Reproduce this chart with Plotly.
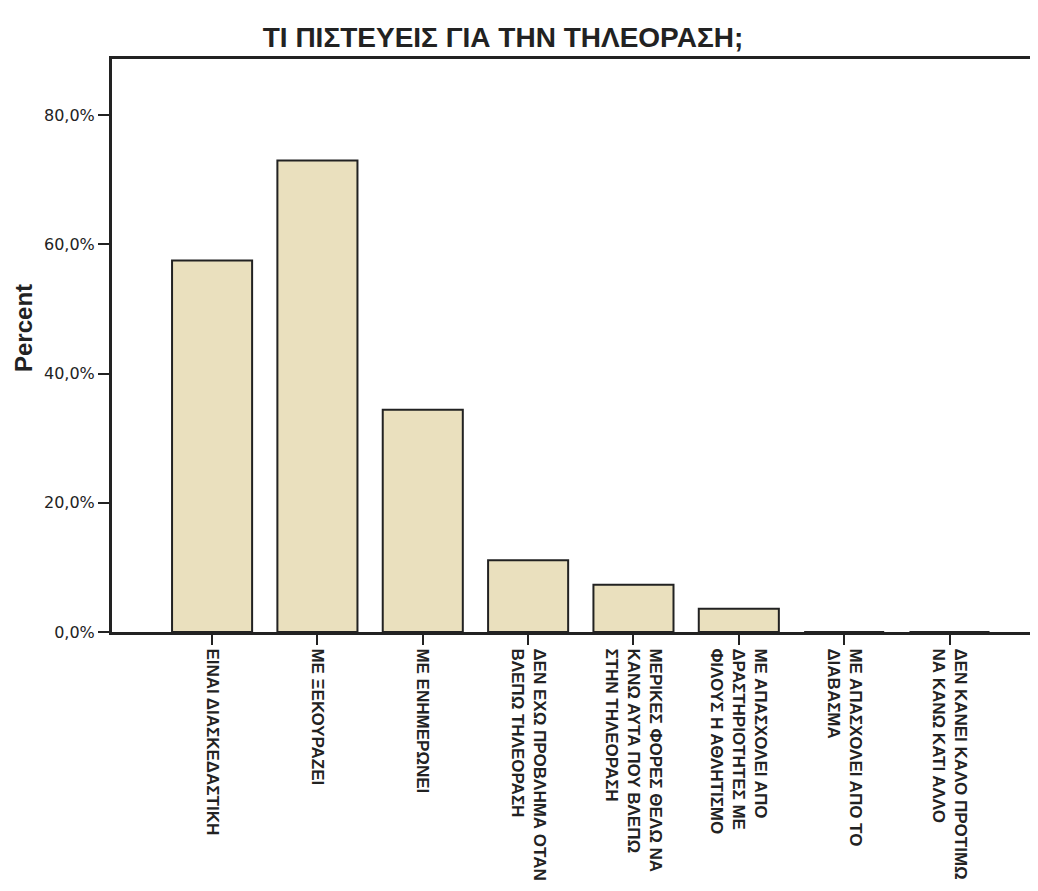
"""Bar chart: what pupils think about television (percent of respondents)."""

import plotly.graph_objects as go

CATEGORIES = [
    "ΕΙΝΑΙ ΔΙΑΣΚΕΔΑΣΤΙΚΗ",
    "ΜΕ ΞΕΚΟΥΡΑΖΕΙ",
    "ΜΕ ΕΝΗΜΕΡΩΝΕΙ",
    "ΔΕΝ ΕΧΩ ΠΡΟΒΛΗΜΑ ΟΤΑΝ<br>ΒΛΕΠΩ ΤΗΛΕΟΡΑΣΗ",
    "ΜΕΡΙΚΕΣ ΦΟΡΕΣ ΘΕΛΩ ΝΑ<br>ΚΑΝΩ ΑΥΤΑ ΠΟΥ ΒΛΕΠΩ<br>ΣΤΗΝ ΤΗΛΕΟΡΑΣΗ",
    "ΜΕ ΑΠΑΣΧΟΛΕΙ ΑΠΟ<br>ΔΡΑΣΤΗΡΙΟΤΗΤΕΣ ΜΕ<br>ΦΙΛΟΥΣ Η ΑΘΛΗΤΙΣΜΟ",
    "ΜΕ ΑΠΑΣΧΟΛΕΙ ΑΠΟ ΤΟ<br>ΔΙΑΒΑΣΜΑ",
    "ΔΕΝ ΚΑΝΕΙ ΚΑΛΟ ΠΡΟΤΙΜΩ<br>ΝΑ ΚΑΝΩ ΚΑΤΙ ΑΛΛΟ",
]
PERCENT = [57.5, 73.0, 34.4, 11.1, 7.3, 3.6, 0.0, 0.0]
Y_TICKS = [0, 20, 40, 60, 80]
Y_TICK_TEXT = ["0,0%", "20,0%", "40,0%", "60,0%", "80,0%"]

BAR_FILL = "#EAE0BE"
INK = "#222222"

# the page body has an 8px margin, so the figure is drawn 8px smaller/shifted
W, H = 1030, 883

fig = go.Figure(
    go.Bar(
        x=list(range(len(CATEGORIES))),
        y=PERCENT,
        width=0.76,
        marker=dict(color=BAR_FILL, line=dict(color=INK, width=2)),
    )
)

fig.update_layout(
    width=W,
    height=H,
    margin=dict(l=104, r=0, t=51, b=259),
    paper_bgcolor="white",
    plot_bgcolor="white",
    showlegend=False,
    title=dict(
        text="<b>ΤΙ ΠΙΣΤΕΥΕΙΣ ΓΙΑ ΤΗΝ ΤΗΛΕΟΡΑΣΗ;</b>",
        x=(503 - 8) / W,
        xanchor="center",
        y=1 - (37 - 8) / H,
        yanchor="middle",
        yref="container",
        font=dict(family="Liberation Sans", size=28, color=INK),
    ),
)

fig.update_xaxes(
    range=[-0.95, 7.84],
    tickmode="array",
    tickvals=list(range(len(CATEGORIES))),
    ticktext=[f"<b>{c}</b>" for c in CATEGORIES],
    tickangle=90,
    tickfont=dict(family="Liberation Sans", size=17, color=INK),
    ticks="outside",
    ticklen=10,
    tickwidth=2,
    tickcolor=INK,
    showline=True,
    linecolor=INK,
    linewidth=3,
    mirror=True,
    showgrid=False,
    zeroline=False,
    automargin=False,
)

fig.update_yaxes(
    range=[0, 88.7],
    tickmode="array",
    tickvals=Y_TICKS,
    ticktext=Y_TICK_TEXT,
    tickfont=dict(family="DejaVu Sans", size=16, color=INK),
    ticks="outside",
    ticklen=11,
    tickwidth=2,
    tickcolor=INK,
    showline=True,
    linecolor=INK,
    linewidth=3,
    showgrid=False,
    zeroline=False,
    automargin=False,
)

# y-axis title placed as an annotation so it sits where the original does
fig.add_annotation(
    text="<b>Percent</b>",
    xref="paper",
    yref="paper",
    x=(23 - 112) / 926,
    y=(632 - 328) / 573,
    textangle=-90,
    showarrow=False,
    xanchor="center",
    yanchor="middle",
    font=dict(family="Liberation Sans", size=24, color=INK),
)

fig.write_html("out.html")
